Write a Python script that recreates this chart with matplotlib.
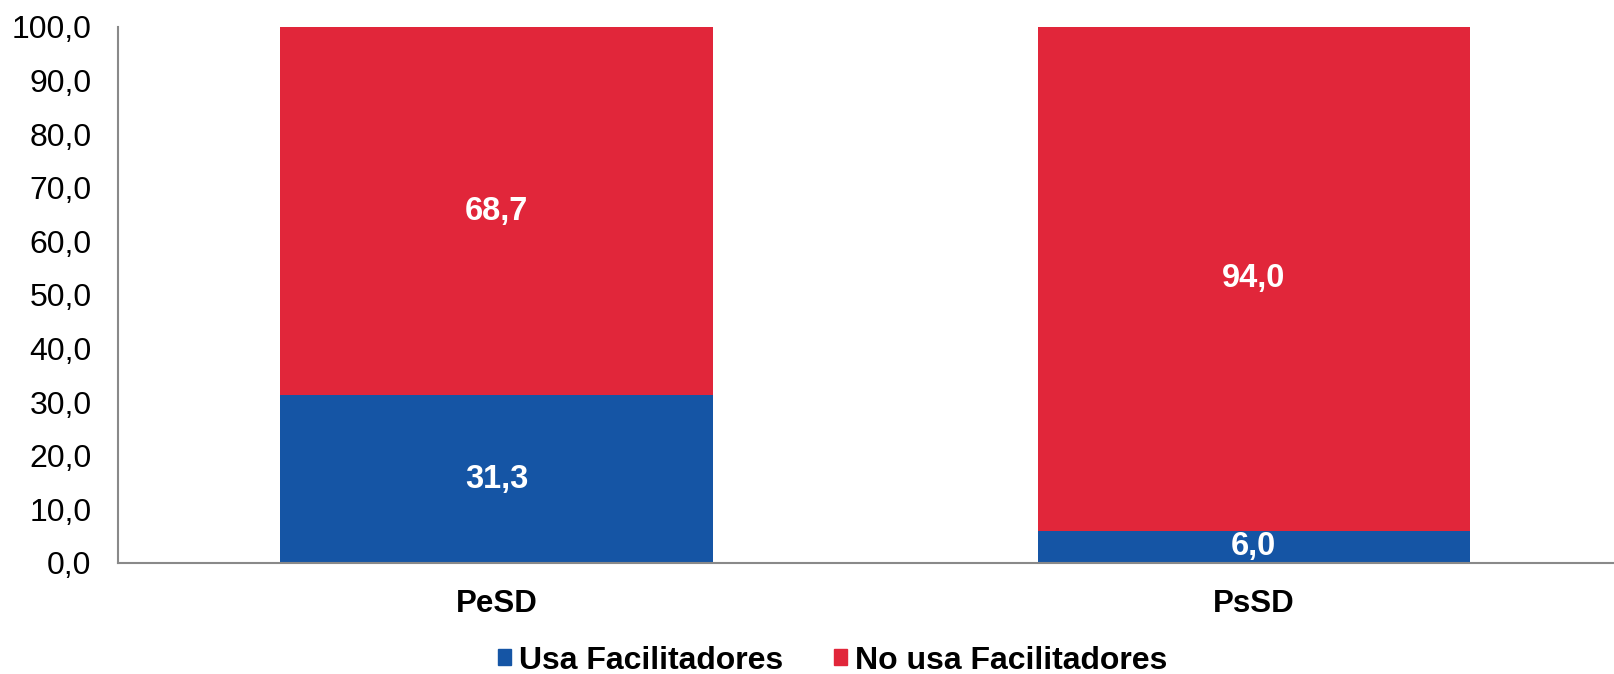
import matplotlib
matplotlib.use("Agg")
import matplotlib.pyplot as plt
from matplotlib.patches import Patch

categories = ["PeSD", "PsSD"]
usa = [31.3, 6.0]
no_usa = [68.7, 94.0]
series_names = ["Usa Facilitadores", "No usa Facilitadores"]
yticks = [0, 10, 20, 30, 40, 50, 60, 70, 80, 90, 100]

blue = "#1555A5"
red = "#E1263A"

plt.rcParams['font.family'] = ['Liberation Sans', 'DejaVu Sans']

fig = plt.figure(figsize=(16.14, 6.74), dpi=100)
ax = fig.add_axes([0.0731, 0.1647, 0.926, 0.7953])

x = list(range(len(categories)))
w = 0.571
ax.bar(x, usa, width=w, color=blue, label=series_names[0])
ax.bar(x, no_usa, width=w, bottom=usa, color=red, label=series_names[1])

for i in x:
    ax.text(i, usa[i] / 2, f"{usa[i]:.1f}".replace(".", ","), ha="center", va="center",
            color="white", fontsize=23.5, fontweight="bold")
    ax.text(i, usa[i] + no_usa[i] / 2, f"{no_usa[i]:.1f}".replace(".", ","), ha="center",
            va="center", color="white", fontsize=23.5, fontweight="bold")

ax.set_xlim(-0.5, 1.474)
ax.set_ylim(0, 100)
ax.set_yticks(yticks)
ax.set_yticklabels([f"{v:.1f}".replace(".", ",") for v in yticks], fontsize=23)
ax.set_xticks(x)
ax.set_xticklabels(categories, fontsize=22.5, fontweight="bold")
ax.tick_params(axis="both", length=0)
ax.tick_params(axis="y", pad=19)
ax.tick_params(axis="x", pad=19)
for s in ["top", "right"]:
    ax.spines[s].set_visible(False)
for s in ["left", "bottom"]:
    ax.spines[s].set_color("#898989")
    ax.spines[s].set_linewidth(1.5)

handles = [Patch(color=blue), Patch(color=red)]
fig.legend(handles, series_names, loc="center", bbox_to_anchor=(0.516, 0.02), ncol=2,
           frameon=False, prop={"size": 23, "weight": "bold"}, handlelength=0.4,
           handleheight=0.4, handletextpad=0.25, columnspacing=1.6,
           borderaxespad=0, borderpad=0)

fig.savefig("out.png", dpi=100)
